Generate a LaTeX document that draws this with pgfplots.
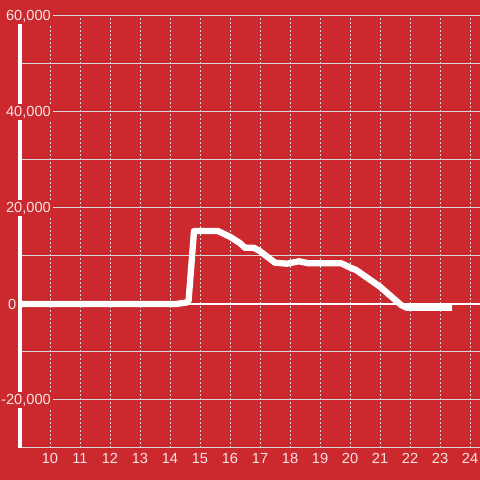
\documentclass[border=0pt]{standalone}
\usepackage{pgfplots}
\pgfplotsset{compat=1.18}
\usepackage{fontspec}
\setmainfont{Liberation Sans}
\definecolor{bg}{RGB}{204,41,46}
\definecolor{gridc}{RGB}{215,215,215}
\definecolor{txt}{RGB}{245,228,228}
\begin{document}
\begin{tikzpicture}
\useasboundingbox (0,0) rectangle (480bp,480bp);
\fill[bg] (0,0) rectangle (480bp,480bp);
\begin{axis}[
  at={(20bp,32bp)}, anchor=south west,
  scale only axis, width=460bp, height=432bp,
  xmin=9, xmax=24.3333, ymin=-30000, ymax=60000,
  axis lines*=left,
  x axis line style={gridc, line width=1bp},
  y axis line style={white, line width=3bp},
  xtick={10,...,24},
  ytick={-20000,20000,40000,60000},
  minor ytick={-10000,10000,30000,50000},
  extra y ticks={0},
  extra y tick style={yticklabel style={xshift=-34.5bp, fill=none}},
  scaled y ticks=false,
  major tick length=0pt, minor tick length=0pt,
  xmajorgrids, ymajorgrids, yminorgrids,
  x grid style={gridc, line width=1bp, dash pattern=on 2bp off 2bp},
  y grid style={gridc, line width=1bp},
  minor y grid style={gridc, line width=1bp},
  tick label style={font=\fontsize{14.7}{16}\selectfont, text=txt},
  yticklabel style={anchor=east, xshift=33bp, fill=bg, inner sep=2bp,
     /pgf/number format/fixed, /pgf/number format/1000 sep={,},
     /pgf/number format/assume math mode=true},
  xticklabel style={yshift=-2bp, /pgf/number format/assume math mode=true},
]
\draw[white, line width=2.7bp] (axis cs:9,0) -- (axis cs:24.3333,0);
\addplot[white, line width=6.3bp, line join=round, no markers] coordinates {
(9,0) (14.2,0) (14.55,300) (14.62,700) (14.8,15200) (15.6,15200)
(16.0,14000) (16.33,12700) (16.5,11700) (16.8,11700) (17.0,11000)
(17.5,8600) (17.9,8400) (18.3,8900) (18.6,8500) (19.7,8500)
(20.0,7600) (20.2,7100) (21.0,3600) (21.7,-200) (21.9,-800) (23.4,-800)
};
\end{axis}
\end{tikzpicture}
\end{document}
